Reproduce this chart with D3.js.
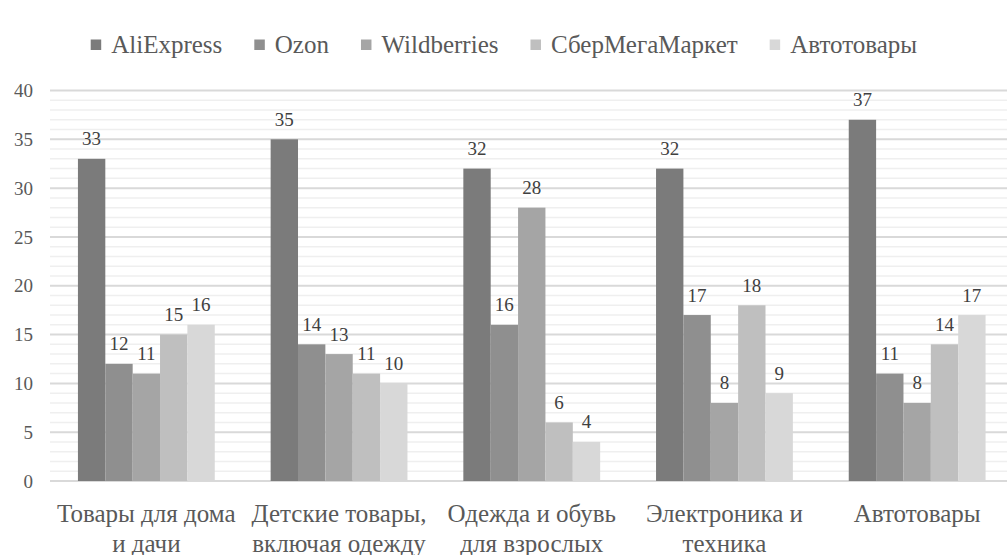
<!DOCTYPE html>
<html><head><meta charset="utf-8"><script src="https://cdn.jsdelivr.net/npm/d3@7"></script></head>
<body style="margin:0;overflow:hidden">
<svg id="s" width="1007" height="555"></svg>
<script>
const categories = [
  ["Товары для дома", "и дачи"],
  ["Детские товары,", "включая одежду"],
  ["Одежда и обувь", "для взрослых"],
  ["Электроника и", "техника"],
  ["Автотовары"]
];
const seriesNames = ["AliExpress", "Ozon", "Wildberries", "СберМегаМаркет", "Автотовары"];
const aliexpress = [33, 35, 32, 32, 37];
const ozon = [12, 14, 16, 17, 11];
const wildberries = [11, 13, 28, 8, 8];
const sbermegamarket = [15, 11, 6, 18, 14];
const avtotovary = [16, 10, 4, 9, 17];
const yTicks = [0, 5, 10, 15, 20, 25, 30, 35, 40];
const colors = ["#7b7b7b", "#8f8f8f", "#a5a5a5", "#bfbfbf", "#d8d8d8"];

const seriesValues = [aliexpress, ozon, wildberries, sbermegamarket, avtotovary];

const FONT = "Liberation Serif";
const svg = d3.select("#s");
const pLeft = 50, pRight = 1013.5, pTop = 90.5, pBottom = 481;

const y = d3.scaleLinear().domain([0, 40]).range([pBottom, pTop]);
const x0 = d3.scaleBand().domain(d3.range(categories.length)).range([pLeft, pRight])
  .paddingInner(0.29).paddingOuter(0.145);
const x1 = d3.scaleBand().domain(d3.range(seriesNames.length)).range([0, x0.bandwidth()]);

function txt(sel, size, fill) {
  return sel.attr("font-family", FONT).style("font-family", FONT)
    .attr("font-size", size).attr("fill", fill);
}

// minor gridlines
svg.append("g").selectAll("line").data(d3.range(1, 41).filter(v => v % 5 !== 0))
  .join("line")
  .attr("x1", pLeft).attr("x2", 1007)
  .attr("y1", d => y(d)).attr("y2", d => y(d))
  .attr("stroke", "#efefef").attr("stroke-width", 1.5);
// major gridlines
svg.append("g").selectAll("line").data(yTicks)
  .join("line")
  .attr("x1", pLeft).attr("x2", 1007)
  .attr("y1", d => y(d)).attr("y2", d => y(d))
  .attr("stroke", "#d9d9d9").attr("stroke-width", 2);

// y axis labels
const yAxis = d3.axisLeft(y).tickValues(yTicks).tickSize(0).tickPadding(0);
const ya = svg.append("g").attr("transform", "translate(33,0)").call(yAxis);
ya.select(".domain").remove();
ya.attr("font-family", FONT).attr("font-size", 19);
txt(ya.selectAll("text"), 19, "#595959");

// bars
const groups = svg.append("g").selectAll("g").data(categories.map((c, i) => i))
  .join("g").attr("transform", i => `translate(${x0(i)},0)`);
groups.selectAll("rect").data(i => seriesValues.map((s, k) => ({k, v: s[i]})))
  .join("rect")
  .attr("x", d => x1(d.k)).attr("width", x1.bandwidth())
  .attr("y", d => y(d.v)).attr("height", d => y(0) - y(d.v))
  .attr("fill", d => colors[d.k]);
txt(groups.selectAll("text").data(i => seriesValues.map((s, k) => ({k, v: s[i]})))
  .join("text")
  .attr("x", d => x1(d.k) + x1.bandwidth() / 2)
  .attr("y", d => y(d.v) - 13.5)
  .attr("text-anchor", "middle"), 19, "#404040")
  .text(d => d.v);

// category labels
categories.forEach((c, i) => {
  c.forEach((line, j) => {
    txt(svg.append("text")
      .attr("x", x0(i) + x0.bandwidth() / 2)
      .attr("y", 521.5 + j * 30)
      .attr("text-anchor", "middle"), 25, "#595959")
      .text(line);
  });
});

// legend
let lx = 90.7;
seriesNames.forEach((name, k) => {
  svg.append("rect").attr("x", lx).attr("y", 39.5).attr("width", 10.5).attr("height", 10.5)
    .attr("fill", colors[k]);
  const t = txt(svg.append("text").attr("x", lx + 20.5).attr("y", 53), 25, "#595959").text(name);
  const w = t.node().getComputedTextLength();
  lx = lx + 20.5 + w + 32;
});
</script>
</body>
</html>
